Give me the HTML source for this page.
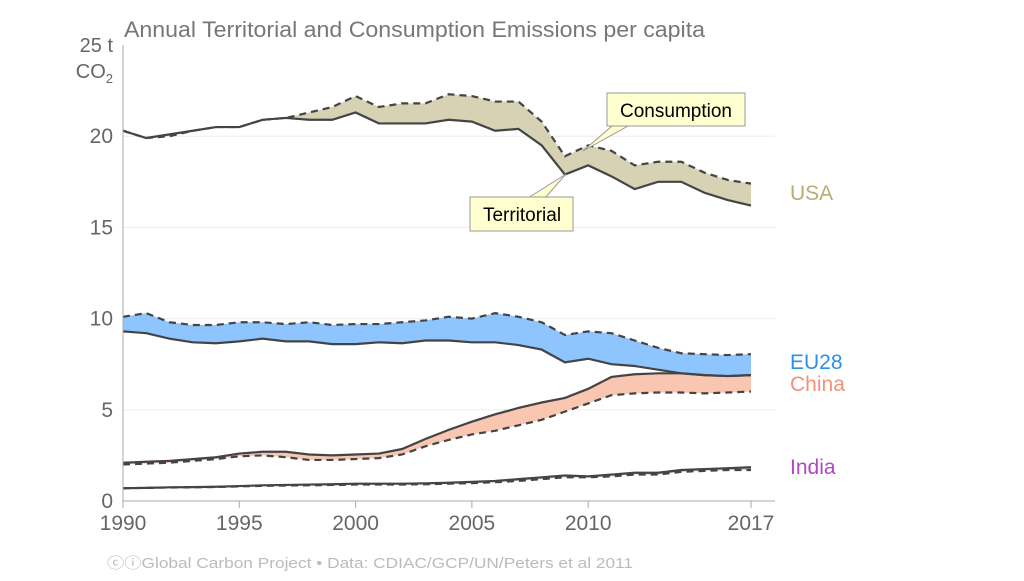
<!DOCTYPE html>
<html><head><meta charset="utf-8"><style>
body{margin:0;background:#fff;}
svg{font-family:"Liberation Sans",sans-serif;}
</style></head><body>
<svg width="1024" height="576">
<text x="124" y="37" font-size="22" fill="#777" textLength="581" lengthAdjust="spacingAndGlyphs">Annual Territorial and Consumption Emissions per capita</text>
<g id="grid"></g>
<g id="areas"></g>
<g id="lines"></g>
<g id="axes"></g>
<text x="107" y="568" font-size="15" fill="#bbb" textLength="526" lengthAdjust="spacingAndGlyphs">ⓒⓘGlobal Carbon Project  •  Data: CDIAC/GCP/UN/Peters et al 2011</text>
<g>
<polygon points="612,126 583,151 628,126" fill="#ffffd0" stroke="#999"/>
<rect x="607" y="93" width="138" height="33" fill="#ffffd0" stroke="#999"/>
<text x="676" y="117" font-size="19" text-anchor="middle" fill="#000">Consumption</text>
</g>
<g>
<polygon points="528,198 566,174 545,198" fill="#ffffd0" stroke="#999"/>
<rect x="470" y="197" width="103" height="34" fill="#ffffd0" stroke="#999"/>
<text x="522" y="221" font-size="19" text-anchor="middle" fill="#000">Territorial</text>
</g>
</svg>
<script>
const years=[];for(let y=1990;y<=2017;y++)years.push(y);
const usaTerr=[20.3,19.9,20.1,20.3,20.5,20.5,20.9,21.0,20.9,20.9,21.3,20.7,20.7,20.7,20.9,20.8,20.3,20.4,19.5,17.9,18.4,17.8,17.1,17.5,17.5,16.9,16.5,16.2];
const usaCons=[20.3,19.9,20.0,20.3,20.5,20.5,20.9,21.0,21.3,21.6,22.2,21.6,21.8,21.8,22.3,22.2,21.9,21.9,20.8,18.9,19.5,19.2,18.4,18.6,18.6,18.0,17.6,17.4];
const euTerr=[9.3,9.2,8.9,8.7,8.65,8.75,8.9,8.75,8.75,8.6,8.6,8.7,8.65,8.8,8.8,8.7,8.7,8.55,8.3,7.6,7.8,7.5,7.4,7.2,7.0,6.9,6.85,6.9];
const euCons=[10.1,10.3,9.8,9.65,9.65,9.8,9.8,9.7,9.8,9.65,9.7,9.7,9.8,9.9,10.1,10.0,10.3,10.1,9.8,9.1,9.3,9.2,8.8,8.4,8.1,8.05,8.0,8.05];
const chinaTerr=[2.1,2.15,2.2,2.3,2.4,2.6,2.7,2.7,2.55,2.5,2.55,2.6,2.85,3.4,3.9,4.35,4.75,5.1,5.4,5.65,6.15,6.8,6.95,7.0,7.0,6.9,6.85,6.9];
const chinaCons=[2.0,2.05,2.1,2.2,2.3,2.45,2.5,2.4,2.25,2.25,2.3,2.35,2.55,3.0,3.35,3.65,3.85,4.15,4.45,4.9,5.35,5.8,5.9,5.95,5.95,5.9,5.95,6.0];
const indiaTerr=[0.7,0.72,0.75,0.76,0.78,0.82,0.86,0.88,0.9,0.92,0.95,0.95,0.95,0.97,1.0,1.05,1.1,1.2,1.3,1.4,1.35,1.45,1.55,1.55,1.7,1.75,1.8,1.85];
const indiaCons=[0.7,0.72,0.74,0.75,0.77,0.8,0.83,0.85,0.86,0.88,0.9,0.9,0.9,0.92,0.95,0.98,1.03,1.1,1.2,1.3,1.3,1.35,1.45,1.45,1.6,1.65,1.7,1.7];
const yTicks=[0,5,10,15,20];
const xTicks=[1990,1995,2000,2005,2010,2017];
const X=y=>123+(y-1990)*(751-123)/27;
const Y=v=>501-v*18.24;
const NS='http://www.w3.org/2000/svg';
function mk(tag,attrs,parent){const e=document.createElementNS(NS,tag);for(const k in attrs)e.setAttribute(k,attrs[k]);document.getElementById(parent).appendChild(e);return e;}
yTicks.forEach(t=>{
 if(t>0){const g=mk('line',{x1:123,x2:775,y1:Y(t),y2:Y(t),stroke:'#eee'},'grid');
 
 }
 const l=mk('text',{x:113,y:Y(t)+7,'font-size':21,fill:'#666','text-anchor':'end'},'axes');
 l.textContent=t;
 
 
});
const yl=mk('text',{x:113,y:Y(25)+7,'font-size':20,fill:'#666','text-anchor':'end'},'axes');
yl.textContent='25 t';


const co=mk('text',{x:113,y:78,'font-size':20,fill:'#666','text-anchor':'end'},'axes');
co.innerHTML='CO<tspan font-size="13" dy="5">2</tspan>';


mk('line',{x1:123,x2:123,y1:45,y2:501,stroke:'#aaa'},'axes');
mk('line',{x1:123,x2:775,y1:501,y2:501,stroke:'#aaa'},'axes');
xTicks.forEach(t=>{
 mk('line',{x1:X(t),x2:X(t),y1:501,y2:508,stroke:'#aaa'},'axes');
 const l=mk('text',{x:X(t),y:530,'font-size':21,fill:'#666','text-anchor':'middle'},'axes');
 l.textContent=t;
 
 
});
const series=[['usa',usaTerr,usaCons,'#d7d2b3','#b8ad74','USA'],['eu28',euTerr,euCons,'#8ec5ff','#2e8fe8','EU28'],['china',chinaTerr,chinaCons,'#f8c6b1','#f0917a','China'],['india',indiaTerr,indiaCons,'#e9b7ea','#b048c4','India']];
const labelY={usa:193,eu28:362,china:384,india:467};
series.forEach(([id,t,c,fill,lc,name])=>{
 const pt=years.map((y,i)=>X(y)+','+Y(t[i]));
 const pc=years.map((y,i)=>X(y)+','+Y(c[i]));
 const a=mk('polygon',{points:pt.concat(pc.slice().reverse()).join(' '),fill:fill},'areas');
 
 
 const lt=mk('polyline',{points:pt.join(' '),fill:'none',stroke:'#444','stroke-width':2.2},'lines');
 
 
 const lcn=mk('polyline',{points:pc.join(' '),fill:'none',stroke:'#444','stroke-width':2.2,'stroke-dasharray':'7,5'},'lines');
 
 
 const lb=mk('text',{x:790,y:labelY[id]+7,'font-size':21,fill:lc},'axes');
 lb.textContent=name;
 
 
});
</script>
</body></html>
